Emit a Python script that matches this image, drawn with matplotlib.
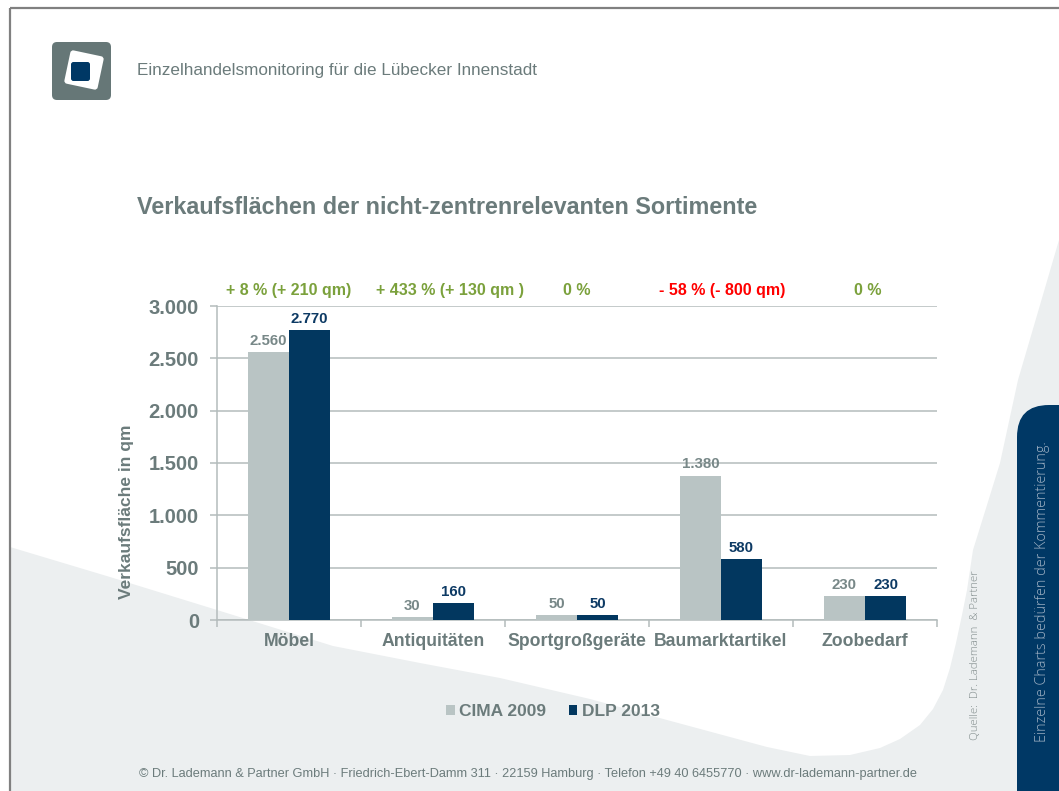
import matplotlib
matplotlib.use("Agg")
import matplotlib.pyplot as plt
from matplotlib.patches import FancyBboxPatch, Polygon
import matplotlib.transforms as mtransforms
import numpy as np

# ---------------- data ----------------
categories = ['Möbel', 'Antiquitäten', 'Sportgroßgeräte', 'Baumarktartikel', 'Zoobedarf']
cima_2009 = [2560, 30, 50, 1380, 230]
dlp_2013 = [2770, 160, 50, 580, 230]
change_labels = ['+ 8 % (+ 210 qm)', '+ 433 % (+ 130 qm )', '0 %', '- 58 % (- 800 qm)', '0 %']
change_positive = [True, True, True, False, True]
series_names = ['CIMA 2009', 'DLP 2013']
yticks = [0, 500, 1000, 1500, 2000, 2500, 3000]
ytick_labels = ['0', '500', '1.000', '1.500', '2.000', '2.500', '3.000']

# ---------------- style ----------------
W, H = 1059, 791
GREY_TXT = '#6b7b7b'
BAR_GREY = '#b9c4c4'
BAR_BLUE = '#02375f'
GRID = '#b4bcbc'
GREEN = '#7ba13c'
RED = '#ff0000'
BG_GREY = '#eceff0'
FONT = ['Liberation Sans', 'DejaVu Sans']

plt.rcParams['font.family'] = FONT

fig = plt.figure(figsize=(W / 100, H / 100), dpi=100)
fig.patch.set_facecolor('white')

# background axes in pixel coordinates
bg = fig.add_axes([0, 0, 1, 1], zorder=0)
bg.set_xlim(0, W)
bg.set_ylim(H, 0)
bg.axis('off')

boundary = [(10, 547), (110, 577), (217, 610), (333, 646), (420, 663), (500, 678),
            (590, 699), (667, 720), (767, 747), (810, 756), (850, 755), (880, 748),
            (900, 739), (920, 725), (933, 709), (943, 690), (950, 668), (956, 643),
            (962, 615), (967, 590), (973, 550), (987, 505), (1000, 463), (1018, 380),
            (1040, 305), (1059, 240)]
poly = boundary + [(W, H), (10, H)]
bg.add_patch(Polygon(poly, closed=True, facecolor=BG_GREY, edgecolor='none'))

# frame lines
bg.plot([10, W], [8, 8], color='#808080', lw=1.6, solid_capstyle='butt')
bg.plot([10, 10], [8, H], color='#808080', lw=1.6, solid_capstyle='butt')

# right tab
tab = FancyBboxPatch((1017, 405), 80, 450, boxstyle='round,pad=0,rounding_size=32',
                     facecolor='#003865', edgecolor='none', clip_on=False)
bg.add_patch(tab)
bg.text(1042, 592, 'Einzelne Charts bedürfen der Kommentierung.', rotation=90,
        ha='center', va='center', color='#9fb1c4', fontsize=10.4,
        family=['Open Sans', 'DejaVu Sans'], fontweight='light')

# Quelle
bg.text(975, 655, 'Quelle:  Dr. Lademann  & Partner', rotation=90, ha='center', va='center',
        color='#7f8a8a', fontsize=8.2, family=['Open Sans', 'DejaVu Sans'], fontweight='light')

# logo
bg.add_patch(FancyBboxPatch((52, 42), 59, 58, boxstyle='round,pad=0,rounding_size=5',
                            facecolor='#667777', edgecolor='none'))
wsq = FancyBboxPatch((-17, -17), 34, 34, boxstyle='round,pad=0,rounding_size=3',
                     facecolor='white', edgecolor='none')
wsq.set_transform(mtransforms.Affine2D().rotate_deg(12).translate(84, 70) + bg.transData)
bg.add_patch(wsq)
bg.add_patch(FancyBboxPatch((71, 62), 19, 19, boxstyle='round,pad=0,rounding_size=2.5',
                            facecolor='#003865', edgecolor='none'))

# header texts
bg.text(137, 71, 'Einzelhandelsmonitoring für die Lübecker Innenstadt', ha='left', va='center',
        color=GREY_TXT, fontsize=12.3)
bg.text(137, 207, 'Verkaufsflächen der nicht-zentrenrelevanten Sortimente', ha='left',
        va='center', color=GREY_TXT, fontsize=16.8, fontweight='bold')

# footer
bg.text(528, 774, '© Dr. Lademann & Partner GmbH · Friedrich-Ebert-Damm 311 · 22159 Hamburg · '
        'Telefon +49 40 6455770 · www.dr-lademann-partner.de', ha='center', va='center',
        color=GREY_TXT, fontsize=9.2)

# ---------------- chart ----------------
ax_l, ax_r, ax_t, ax_b = 217, 937, 306, 620
ax = fig.add_axes([ax_l / W, 1 - ax_b / H, (ax_r - ax_l) / W, (ax_b - ax_t) / H], zorder=2)
ax.set_facecolor('none')

x = np.arange(len(categories))
bw = 0.285
b1 = ax.bar(x - bw / 2, cima_2009, bw, color=BAR_GREY, label=series_names[0], zorder=3)
b2 = ax.bar(x + bw / 2, dlp_2013, bw, color=BAR_BLUE, label=series_names[1], zorder=3)

def fmt(v):
    return f'{v:,}'.replace(',', '.')

for rect, v in zip(b1, cima_2009):
    ax.annotate(fmt(v), (rect.get_x() + rect.get_width() / 2, v), xytext=(0, 3),
                textcoords='offset points', ha='center', va='bottom', fontsize=10.8,
                fontweight='bold', color='#788888', zorder=4)
for rect, v in zip(b2, dlp_2013):
    ax.annotate(fmt(v), (rect.get_x() + rect.get_width() / 2, v), xytext=(0, 3),
                textcoords='offset points', ha='center', va='bottom', fontsize=10.8,
                fontweight='bold', color='#0d3a64', zorder=4)

change_dx = [0, 12, 0, 1, 2]
for i, (lab, pos) in enumerate(zip(change_labels, change_positive)):
    ax.annotate(lab, (i, 1), xycoords=('data', 'axes fraction'), xytext=(change_dx[i], 11),
                textcoords='offset points', ha='center', va='center', fontsize=11.5,
                fontweight='bold', color=GREEN if pos else RED)

ax.set_xlim(-0.5, len(categories) - 0.5)
ax.set_ylim(0, 3000)
ax.set_yticks(yticks)
ax.set_yticklabels(ytick_labels)
ax.yaxis.grid(True, color=GRID, lw=1.1, zorder=0)
ax.set_axisbelow(True)
for s in ['top', 'right']:
    ax.spines[s].set_visible(False)
for s in ['left', 'bottom']:
    ax.spines[s].set_color(GRID)
    ax.spines[s].set_linewidth(1.1)
ax.tick_params(axis='y', length=5, width=1.1, color=GRID, labelsize=14.5, labelcolor=GREY_TXT, pad=8)
for t in ax.get_yticklabels():
    t.set_fontweight('bold')

ax.set_xticks(np.arange(-0.5, len(categories), 1.0))
ax.set_xticklabels([])
ax.set_xticks(x, minor=True)
ax.set_xticklabels(categories, minor=True)
ax.tick_params(axis='x', which='major', length=5, width=1.1, color=GRID)
ax.tick_params(axis='x', which='minor', length=0, labelsize=12.7, labelcolor=GREY_TXT, pad=9)
for t in ax.get_xticklabels(minor=True):
    t.set_fontweight('bold')

fig.text(127 / W, 1 - 512 / H, 'Verkaufsfläche in qm', rotation=90, ha='center', va='center',
         fontsize=12.5, fontweight='bold', color=GREY_TXT)

leg = fig.legend(handles=[b1, b2], labels=series_names, loc='center',
                 bbox_to_anchor=(553 / W, 1 - 712 / H), ncol=2, frameon=False,
                 handlelength=0.5, handleheight=0.5, handletextpad=0.25, columnspacing=1.3,
                 prop={'size': 12.5, 'weight': 'bold'})
for t in leg.get_texts():
    t.set_color(GREY_TXT)

fig.savefig('out.png', dpi=100, facecolor='white')
